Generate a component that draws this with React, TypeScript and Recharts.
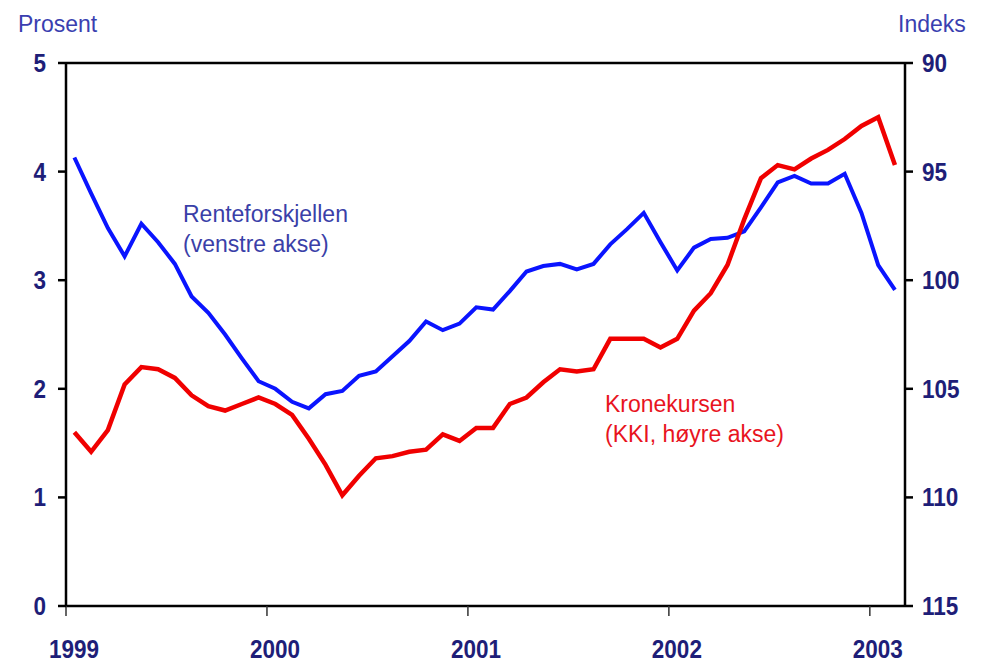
import { LineChart, Line, XAxis, YAxis, ReferenceLine } from 'recharts';

// monthly, Jan 1999 - Feb 2003
const renteforskjellen = [
  4.13, 3.8, 3.48, 3.22, 3.52, 3.35, 3.15, 2.85, 2.7, 2.5, 2.28, 2.07,
  2.0, 1.88, 1.82, 1.95, 1.98, 2.12, 2.16, 2.3, 2.44, 2.62, 2.54, 2.6,
  2.75, 2.73, 2.9, 3.08, 3.13, 3.15, 3.1, 3.15, 3.33, 3.47, 3.62, 3.35,
  3.09, 3.3, 3.38, 3.39, 3.45, 3.67, 3.9, 3.96, 3.89, 3.89, 3.98, 3.62,
  3.14, 2.91,
];
const kronekursen = [
  107.0, 107.9, 106.9, 104.8, 104.0, 104.1, 104.5, 105.3, 105.8, 106.0, 105.7, 105.4,
  105.7, 106.2, 107.3, 108.5, 109.9, 109.0, 108.2, 108.1, 107.9, 107.8, 107.1, 107.4,
  106.8, 106.8, 105.7, 105.4, 104.7, 104.1, 104.2, 104.1, 102.7, 102.7, 102.7, 103.1,
  102.7, 101.4, 100.6, 99.3, 97.2, 95.3, 94.7, 94.9, 94.4, 94.0, 93.5, 92.9,
  92.5, 94.7,
];
const years = ['1999', '2000', '2001', '2002', '2003'];
const leftTicks = [0, 1, 2, 3, 4, 5];
const rightTicks = [90, 95, 100, 105, 110, 115];

const data = renteforskjellen.map((v, i) => ({
  m: i + 0.5,
  rente: v,
  krone: kronekursen[i],
}));

const FONT = '"Liberation Sans", Arial, sans-serif';
const TICK_COLOR = '#1e1e78';

const YTick = (props: any) => {
  const { x, y, payload, textAnchor } = props;
  return (
    <text
      transform={`translate(${x},${y}) scale(0.9,1)`}
      textAnchor={textAnchor}
      dy="0.36em"
      fontSize={25}
      fontWeight="bold"
      fontFamily={FONT}
      fill={TICK_COLOR}
    >
      {payload.value}
    </text>
  );
};

const XTick = (props: any) => {
  const { x, y, payload } = props;
  return (
    <text
      transform={`translate(${x + 8},${y}) scale(0.9,1)`}
      textAnchor="middle"
      dy="0.72em"
      fontSize={25}
      fontWeight="bold"
      fontFamily={FONT}
      fill={TICK_COLOR}
    >
      {years[Math.round(payload.value / 12)]}
    </text>
  );
};

const label = (color: string) => ({
  position: 'absolute' as const,
  fontFamily: FONT,
  fontSize: 23,
  lineHeight: '30px',
  color,
  whiteSpace: 'nowrap' as const,
});

export default function App() {
  return (
    <div style={{ position: 'absolute', left: 0, top: 0, width: 985, height: 664, background: '#fff' }}>
      <LineChart width={985} height={664} data={data} margin={{ top: 63, right: 0, bottom: 0, left: 0 }}>
        <XAxis
          dataKey="m"
          type="number"
          domain={[0, 50.1]}
          ticks={[0, 12, 24, 36, 48]}
          height={58}
          tickSize={10}
          tickMargin={24}
          tick={<XTick />}
          axisLine={{ stroke: '#000', strokeWidth: 2.5 }}
          tickLine={{ stroke: '#333', strokeWidth: 1.5 }}
        />
        <YAxis
          yAxisId="left"
          orientation="left"
          width={66}
          domain={[0, 5]}
          ticks={leftTicks}
          tickSize={8}
          tickMargin={12}
          tick={<YTick />}
          axisLine={{ stroke: '#000', strokeWidth: 2.5 }}
          tickLine={{ stroke: '#000', strokeWidth: 2.5 }}
        />
        <YAxis
          yAxisId="right"
          orientation="right"
          width={80}
          domain={[90, 115]}
          reversed
          ticks={rightTicks}
          tickSize={8}
          tickMargin={9}
          tick={<YTick />}
          axisLine={{ stroke: '#000', strokeWidth: 2.5 }}
          tickLine={{ stroke: '#000', strokeWidth: 2.5 }}
        />
        <ReferenceLine yAxisId="left" y={5} stroke="#000" strokeWidth={2.5} />
        <Line
          yAxisId="left"
          dataKey="rente"
          type="linear"
          stroke="#0a14ff"
          strokeWidth={4}
          dot={false}
          isAnimationActive={false}
        />
        <Line
          yAxisId="right"
          dataKey="krone"
          type="linear"
          stroke="#f00000"
          strokeWidth={4.5}
          dot={false}
          isAnimationActive={false}
        />
      </LineChart>
      <div style={{ ...label('#3a3fb0'), left: 18, top: 9 }}>Prosent</div>
      <div style={{ ...label('#3a3fb0'), left: 898, top: 9 }}>Indeks</div>
      <div style={{ ...label('#3a3fa8'), left: 183, top: 199 }}>
        Renteforskjellen
        <br />
        (venstre akse)
      </div>
      <div style={{ ...label('#e8141e'), left: 605, top: 389 }}>
        Kronekursen
        <br />
        (KKI, høyre akse)
      </div>
    </div>
  );
}
